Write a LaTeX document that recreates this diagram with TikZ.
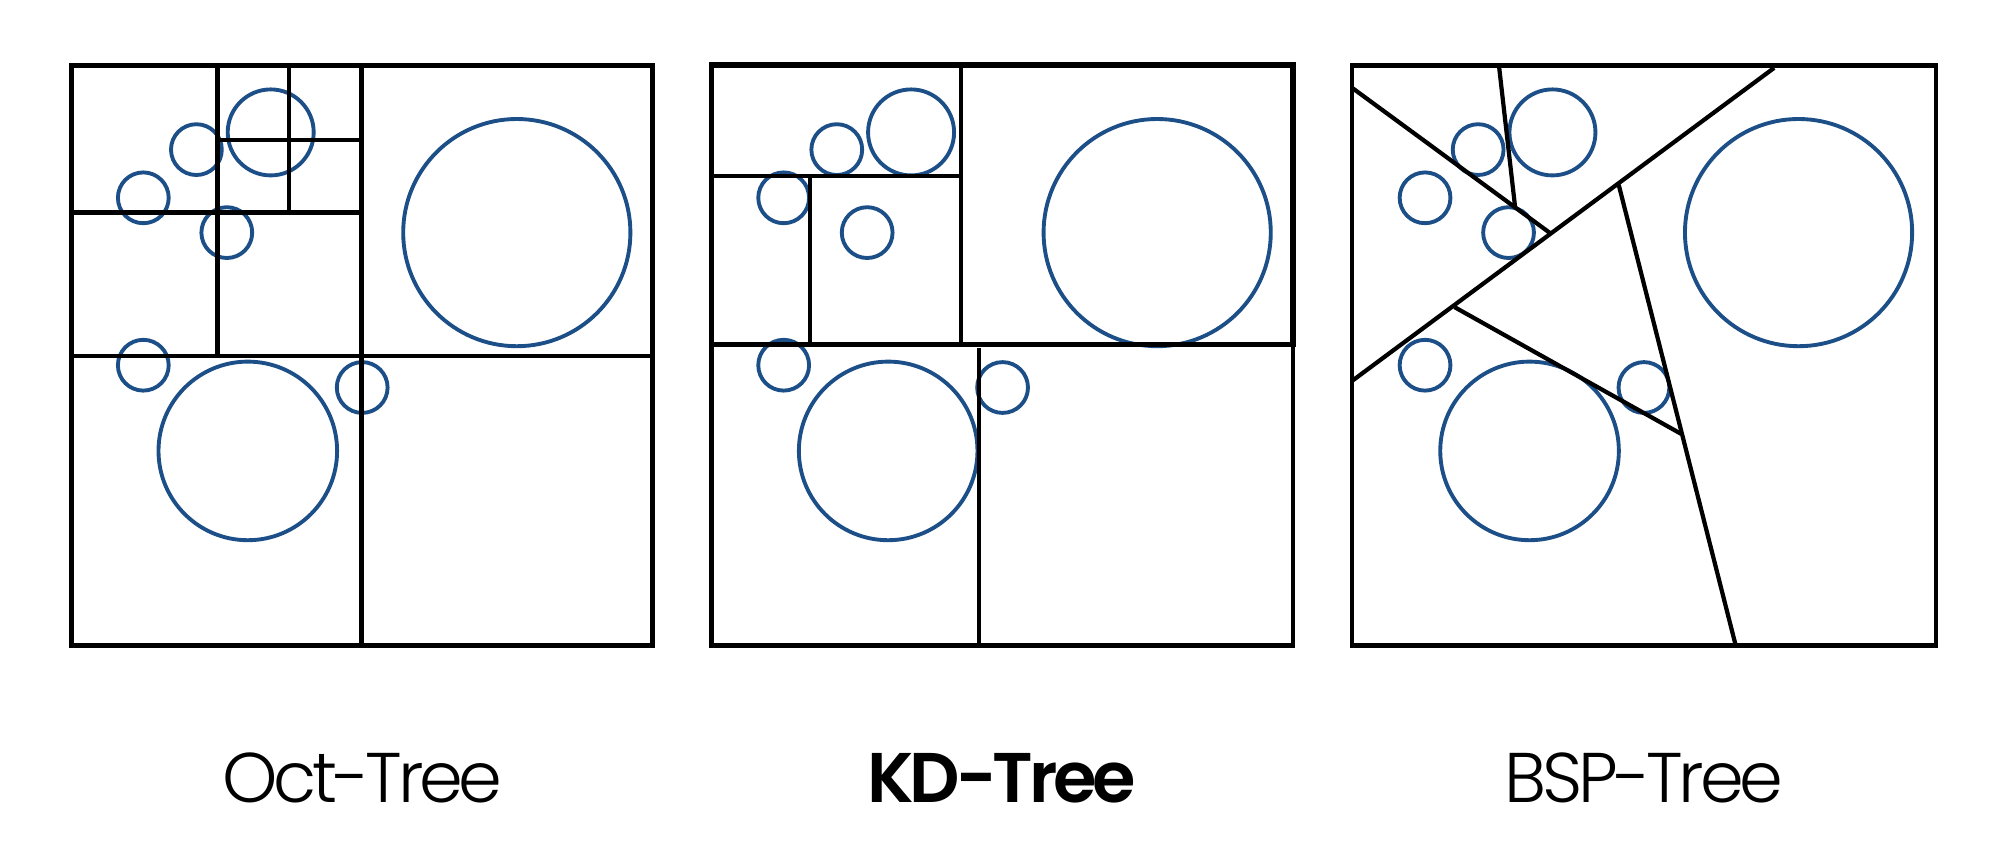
\documentclass[tikz,border=0pt]{standalone}
\usepackage{fontspec}
\newfontfamily\labellight{Poppins Light}[LetterSpace=-6]
\newfontfamily\labelbold{Poppins SemiBold}[LetterSpace=-6]
\definecolor{circblue}{RGB}{28,78,135}
\tikzset{
  part/.style={draw=black, line width=1.2pt},
  partthick/.style={draw=black, line width=1.45pt},
  obj/.style={draw=circblue, line width=1.1pt},
  lbl/.style={anchor=base, inner sep=0pt, font=\fontsize{20}{24}\selectfont\labellight},
  lblb/.style={anchor=base, inner sep=0pt, font=\fontsize{20}{24}\selectfont\labelbold}
}
\newcommand{\mycircles}{%
  \draw[obj] (196.4,149.6) circle (25.4);
  \draw[obj] (270.7,132.4) circle (43);
  \draw[obj] (143.3,197.8) circle (25.4);
  \draw[obj] (226.8,232.6) circle (25.4);
  \draw[obj] (516.8,232.6) circle (113.6);
  \draw[obj] (143.3,365.2) circle (25.4);
  \draw[obj] (247.8,450.9) circle (89.3);
  \draw[obj] (362.2,387.5) circle (25.4);
}
\begin{document}
\begin{tikzpicture}[x=0.01cm, y=-0.01cm]
\useasboundingbox (0,0) rectangle (1997,857);
% ---------- Oct-Tree ----------
\begin{scope}
  \mycircles
  \draw[part] (71.4,65.5) rectangle (652.6,645.5);
  \draw[part] (361.6,65.5) -- (361.6,645.5);
  \draw[part] (71.4,355.8) -- (652.6,355.8);
  \draw[part] (217.4,65.5) -- (217.4,355.8);
  \draw[part] (71.4,212.5) -- (363.5,212.5);
  \draw[part] (289.3,65.5) -- (289.3,212.5);
  \draw[part] (215.6,140.2) -- (363.8,140.2);
\end{scope}
\node[lbl] (oct) at (362.5,802.7) {Oct-Tree};
% ---------- KD-Tree ----------
\begin{scope}[xshift=6.4cm]
  \mycircles
\end{scope}
\draw[part] (711.5,65) rectangle (1293,645.5);
\draw[partthick] (711.5,65) rectangle (1293,344.6);
\draw[part] (961.2,65) -- (961.2,344.6);
\draw[part] (711.5,175.9) -- (961.2,175.9);
\draw[part] (809.8,175.9) -- (809.8,344.6);
\draw[part] (978.6,348.2) -- (978.6,645.5);
\node[lblb] (kd) at (1001.7,802.7) {KD-Tree};
% ---------- BSP-Tree ----------
\begin{scope}[xshift=12.81cm]
  \mycircles
\end{scope}
\draw[part] (1352.2,65.6) rectangle (1936.2,645.5);
\draw[part] (1352.2,87.9) -- (1550,233);
\draw[part] (1499.1,67) -- (1515.2,208);
\draw[part] (1352.2,380.8) -- (1774.1,67.9);
\draw[part] (1618.7,184.8) -- (1735.7,645.5);
\draw[part] (1454.5,307.1) -- (1681.2,433.9);
\node[lbl] (bsp) at (1644,802.7) {BSP-Tree};
\end{tikzpicture}
\end{document}
